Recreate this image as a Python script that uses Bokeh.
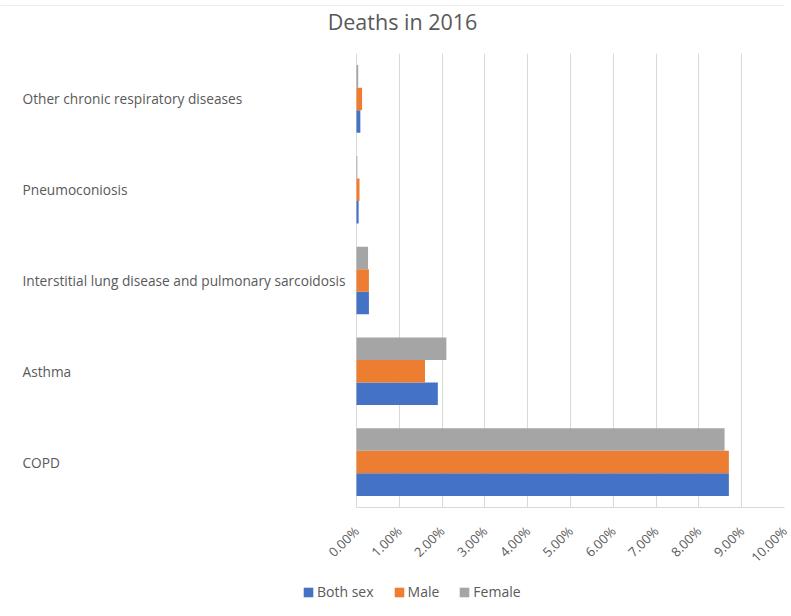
import math
from bokeh.plotting import figure
from bokeh.layouts import column
from bokeh.core.properties import value
from bokeh.models import (FactorRange, Range1d, FixedTicker, NumeralTickFormatter,
                          Label, LabelSet, Legend, LegendItem, Span, ColumnDataSource)
from bokeh.transform import dodge
from bokeh.embed import file_html
from bokeh.resources import INLINE

# Share of deaths in 2016, by disease (percent)
categories = ["COPD", "Asthma",
              "Interstitial lung disease and pulmonary sarcoidosis",
              "Pneumoconiosis", "Other chronic respiratory diseases"]
both_sex = [8.70, 1.90, 0.29, 0.05, 0.09]
male = [8.70, 1.60, 0.29, 0.07, 0.13]
female = [8.60, 2.10, 0.27, 0.02, 0.04]
x_ticks = [0, 1, 2, 3, 4, 5, 6, 7, 8, 9, 10]
series = ["Both sex", "Male", "Female"]
colors = ["#4472C4", "#ED7D31", "#A5A5A5"]
title_text = "Deaths in 2016"

FONT = "Open Sans"
TEXT = "#595959"
GRID = "#d9d9d9"

W = 791
H_HEAD, H_MAIN, H_LEG = 53, 522, 41
PLOT_H = 455             # height of the bar area
LABEL_COL = 356          # pixels kept for the category labels
RIGHT_PAD = 7
x_max = x_ticks[-1] / 100
plot_px = W - LABEL_COL - RIGHT_PAD
x_min = -x_max * LABEL_COL / plot_px


def strip(height):
    """A bare figure used as a text/legend band."""
    f = figure(width=W, height=height, x_range=Range1d(0, 1), y_range=Range1d(0, 1),
               output_backend="svg", toolbar_location=None,
               x_axis_type=None, y_axis_type=None,
               min_border_left=0, min_border_right=0,
               min_border_top=0, min_border_bottom=0)
    f.outline_line_color = None
    f.xgrid.visible = False
    f.ygrid.visible = False
    return f


# title band with the chart-area top edge
head = strip(H_HEAD)
head.add_layout(Span(location=H_HEAD - 5, location_units="screen", dimension="width",
                     line_color="#ececec", line_width=1))
head.add_layout(Label(x=402, y=H_HEAD - 21, x_units="screen", y_units="screen",
                      text=title_text, text_font=FONT, text_font_size="21.5px",
                      text_color=TEXT, text_align="center", text_baseline="middle"))

src = ColumnDataSource(dict(
    cat=categories,
    both=[v / 100 for v in both_sex],
    male=[v / 100 for v in male],
    female=[v / 100 for v in female],
))

p = figure(width=W, height=H_MAIN, y_range=FactorRange(factors=categories),
           x_range=Range1d(x_min, x_max),
           output_backend="svg", toolbar_location=None,
           min_border_left=0, min_border_right=RIGHT_PAD,
           min_border_top=0, min_border_bottom=H_MAIN - PLOT_H)
p.outline_line_color = None
p.background_fill_color = "white"
p.border_fill_color = "white"

bh = 0.248
renderers = []
for key, off, col in zip(["both", "male", "female"], [-bh, 0, bh], colors):
    renderers.append(p.hbar(y=dodge("cat", off, range=p.y_range), right=key, left=0,
                            height=bh, source=src, fill_color=col, line_color=None))

# x axis: percent ticks with rotated labels, line only under the bars
p.xaxis.ticker = FixedTicker(ticks=[t / 100 for t in x_ticks])
p.xaxis.formatter = NumeralTickFormatter(format="0.00%")
p.xaxis.bounds = (0, x_max)
p.xaxis.major_label_orientation = math.pi / 4
p.xaxis.major_label_text_font = FONT
p.xaxis.major_label_text_font_size = "13px"
p.xaxis.major_label_text_color = TEXT
p.xaxis.major_label_standoff = 15
p.xaxis.axis_line_color = GRID
p.xaxis.major_tick_line_color = None
p.xaxis.minor_tick_line_color = None
p.xgrid.grid_line_color = GRID
p.xgrid.grid_line_width = 1
p.ygrid.grid_line_color = None
p.yaxis.visible = False

# category labels, left aligned
p.add_layout(LabelSet(x=22, x_units="screen", y="cat", y_units="data", text="cat",
                      source=src, text_font=value(FONT), text_font_size=value("13.7px"),
                      text_color=TEXT, text_align="left", text_baseline="middle"))

# legend band below the chart; its swatch renderers hold zero-length bars
leg = strip(H_LEG)
swatches = [leg.hbar(y=[0], right=[0], left=0, height=0.1, fill_color=c, line_color=None)
            for c in colors]
legend = Legend(items=[LegendItem(label=s, renderers=[r]) for s, r in zip(series, swatches)],
                orientation="horizontal", location=(302, 15),
                glyph_width=12, glyph_height=12, label_standoff=3, spacing=19,
                padding=0, margin=0, border_line_color=None,
                background_fill_alpha=0,
                label_text_font=FONT, label_text_font_size="14px",
                label_text_color=TEXT)
leg.add_layout(legend)

layout = column(head, p, leg, spacing=0)
open("out.html", "w").write(file_html(layout, INLINE))
